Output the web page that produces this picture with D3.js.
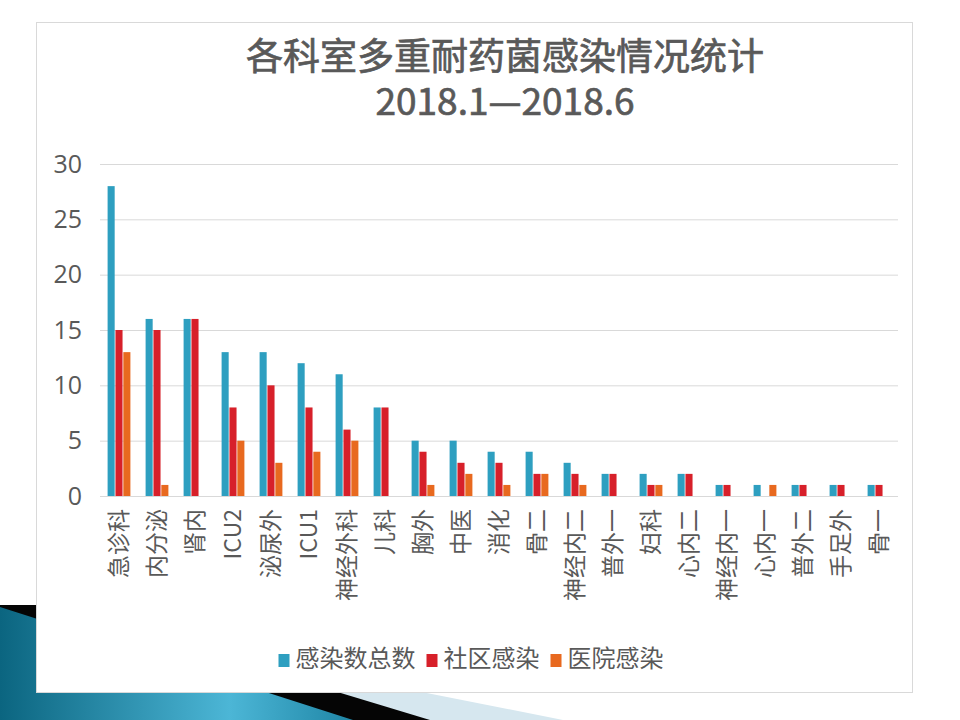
<!DOCTYPE html>
<html>
<head>
<meta charset="utf-8">
<script src="https://cdn.jsdelivr.net/npm/d3@7"></script>
<style>
  body { margin: 0; background: #fff; }
  svg { display: block; }
  text { font-family: "Noto Sans CJK SC", "Noto Sans", sans-serif; fill: #595959; }
</style>
</head>
<body>
<script>
var departments = ["急诊科", "内分泌", "肾内", "ICU2", "泌尿外", "ICU1", "神经外科", "儿科", "胸外", "中医",
                   "消化", "骨二", "神经内二", "普外一", "妇科", "心内二", "神经内一", "心内一", "普外二", "手足外", "骨一"]
var totalCases     = [28, 16, 16, 13, 13, 12, 11, 8, 5, 5, 4, 4, 3, 2, 2, 2, 1, 1, 1, 1, 1]
var communityCases = [15, 15, 16, 8, 10, 8, 6, 8, 4, 3, 3, 2, 2, 2, 1, 2, 1, 0, 1, 1, 1]
var hospitalCases  = [13, 1, 0, 5, 3, 4, 5, 0, 1, 2, 1, 2, 1, 0, 1, 0, 0, 1, 0, 0, 0]
var seriesNames = ["感染数总数", "社区感染", "医院感染"]
var yTicks = [0, 5, 10, 15, 20, 25, 30]
var titleLines = ["各科室多重耐药菌感染情况统计", "2018.1—2018.6"]

var seriesValues = [totalCases, communityCases, hospitalCases]
var colors = d3.scaleOrdinal()
               .domain(seriesNames)
               .range(["#2E9FC0", "#D7202A", "#E8691F"])

var svg = d3.select("body")
            .append("svg")
            .attr("width", 960)
            .attr("height", 720)

// slide decoration, bottom left
var defs = svg.append("defs")
var grad = defs.append("linearGradient")
               .attr("id", "teal")
               .attr("x1", 0).attr("y1", 0)
               .attr("x2", 1).attr("y2", 0)
grad.append("stop").attr("offset", "0%").attr("stop-color", "#0b6580")
grad.append("stop").attr("offset", "65%").attr("stop-color", "#4cb6d6")
grad.append("stop").attr("offset", "100%").attr("stop-color", "#1f86a6")

svg.append("polygon")
   .attr("points", "250,658 563,720 250,720")
   .attr("fill", "#d6e7ef")
svg.append("polygon")
   .attr("points", "0,605 50,605 430,720 0,720")
   .attr("fill", "#050505")
svg.append("polygon")
   .attr("points", "0,607 353,720 0,720")
   .attr("fill", "url(#teal)")

// chart frame
svg.append("rect")
   .attr("x", 36.5)
   .attr("y", 22.5)
   .attr("width", 876)
   .attr("height", 670)
   .attr("fill", "#fff")
   .attr("stroke", "#d9d9d9")

// two-line title as one text block
svg.append("text")
   .attr("class", "title")
   .attr("text-anchor", "middle")
   .attr("font-size", 37)
   .attr("stroke", "#595959")
   .attr("stroke-width", 0.7)
   .selectAll("tspan")
   .data(titleLines)
   .enter()
   .append("tspan")
   .attr("x", 505)
   .attr("y", (d, i) => 70 + i * 45)
   .text(d => d)

var x0 = d3.scaleBand()
           .domain(departments)
           .range([100, 898])
           .paddingInner(0.4)
           .paddingOuter(0.2)

var x1 = d3.scaleBand()
           .domain(seriesNames)
           .range([0, x0.bandwidth()])
           .paddingInner(0.1)

var y = d3.scaleLinear()
          .domain([0, 30])
          .range([496, 164])

var yAxis = svg.append("g")
               .attr("transform", "translate(100,0)")
               .call(d3.axisLeft(y).tickValues(yTicks).tickSize(-798).tickPadding(18))
yAxis.select(".domain").remove()
yAxis.selectAll(".tick line").attr("stroke", "#d9d9d9")
yAxis.selectAll(".tick text")
     .attr("font-size", 25)
     .attr("fill", "#595959")
     .style("font-family", "'Open Sans', 'Noto Sans', sans-serif")

var groups = svg.selectAll(".dept")
                .data(departments)
                .enter()
                .append("g")
                .attr("class", "dept")
                .attr("transform", d => "translate(" + x0(d) + ",0)")

groups.selectAll("rect")
      .data((d, i) => seriesNames.map((s, j) => ({ series: s, value: seriesValues[j][i] })))
      .enter()
      .append("rect")
      .attr("x", d => x1(d.series))
      .attr("width", x1.bandwidth())
      .attr("y", d => y(d.value))
      .attr("height", d => y(0) - y(d.value))
      .attr("fill", d => colors(d.series))

svg.selectAll(".cat")
   .data(departments)
   .enter()
   .append("text")
   .attr("class", "cat")
   .attr("font-size", 23)
   .attr("text-anchor", "end")
   .attr("dy", "0.36em")
   .attr("transform", d => "translate(" + (x0(d) + x0.bandwidth() / 2) + ",509) rotate(-90)")
   .text(d => d)

// legend, centred in the frame
var legend = svg.append("g")
var items = legend.selectAll(".item")
                  .data(seriesNames)
                  .enter()
                  .append("g")
                  .attr("class", "item")
items.append("rect")
     .attr("width", 11)
     .attr("height", 13)
     .attr("y", -12)
     .attr("fill", d => colors(d))
items.append("text")
     .attr("x", 17)
     .attr("font-size", 24)
     .attr("dy", "0.05em")
     .text(d => d)

var offset = 0
items.each(function () {
  var w = this.getBBox().width
  d3.select(this).attr("transform", "translate(" + offset + ",0)")
  offset += w + 11
})
offset -= 11
legend.attr("transform", "translate(" + (471 - offset / 2) + ",666)")
</script>
</body>
</html>
